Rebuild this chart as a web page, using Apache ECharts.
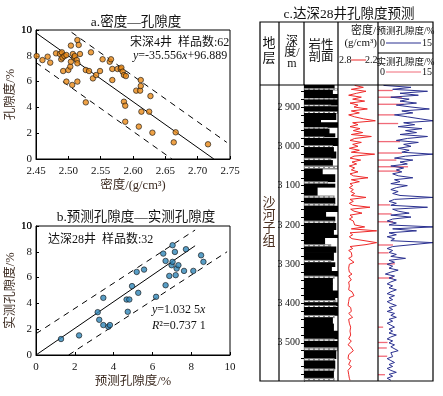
<!DOCTYPE html>
<html>
<head>
<meta charset="utf-8">
<script src="https://cdn.jsdelivr.net/npm/echarts@6/dist/echarts.min.js"></script>
<style>html,body{margin:0;padding:0;background:#fff}#main{width:443px;height:396px}</style>
</head>
<body>
<div id="main"></div>
<script>
var FONT = "'Liberation Serif','Noto Sans CJK SC',serif";
var NAMECOLOR = '#3b2a20';

// a. 宋深4井 密度—孔隙度
var aDensity = [2.451,2.460,2.468,2.472,2.481,2.487,2.490,2.489,2.491,2.494,2.492,2.497,2.500,2.497,2.503,2.504,2.504,2.506,2.507,2.509,2.510,2.513,2.514,2.514,2.514,2.516,2.518,2.527,2.527,2.532,2.535,2.538,2.543,2.549,2.553,2.564,2.566,2.568,2.568,2.576,2.581,2.582,2.584,2.586,2.589,2.586,2.588,2.588,2.605,2.611,2.612,2.612,2.613,2.609,2.627,2.625,2.630,2.666,2.663,2.716];
var aPorosity = [7.98,7.67,7.93,7.47,8.19,8.14,8.27,7.73,7.86,7.98,6.82,8.06,6.90,6.00,7.16,8.79,7.54,5.74,8.14,7.86,7.98,7.67,9.22,7.42,6.00,8.84,8.14,6.90,4.39,6.82,8.27,6.25,6.51,6.82,7.73,7.54,7.73,6.98,6.12,6.98,6.98,7.08,6.77,6.51,6.43,4.44,4.13,2.89,5.30,5.30,6.12,5.66,3.67,2.51,4.88,3.67,2.04,2.07,1.29,1.14];
var aFit = [-35.556, 96.889];          // slope, intercept
var aFitX = [2.45, 2.725];
var aUpperX = [2.505, 2.745], aUpperOff = 2.0;
var aLowerX = [2.45, 2.66], aLowerOff = -2.3;
var aTicksX = [2.45, 2.75, 0.05];
var porTicks = [0, 2, 4, 6, 8, 10];

// b. 达深28井 预测—实测
var bPred = [1.29,2.22,3.18,3.26,3.47,3.47,3.73,3.81,4.67,4.81,4.73,4.95,5.19,5.27,5.57,6.19,6.56,6.68,6.68,6.87,6.99,7.04,7.04,7.16,7.20,7.25,7.34,7.63,7.73,8.11,8.51,8.63];
var bMeas = [1.24,1.52,3.32,2.73,4.43,2.32,2.19,2.32,4.30,4.30,3.35,5.34,6.44,4.82,6.62,4.51,7.86,7.29,5.41,6.13,6.96,7.22,8.51,7.99,6.19,6.70,6.96,6.52,8.20,6.52,7.73,7.22];
var bFit = 1.0325, bFitX = [0, 8.2];
var bBandSlope = 0.98;
var bUpperX = [0, 8.2], bUpperOff = 1.65;
var bLowerX = [1.68, 9.85], bLowerOff = -1.65;

// c. 达深28井 测井曲线 (每5 m 一个采样点)
var logTop = 2845, logStep = 5;
var densityLog = [
  2.55,2.42,2.60,2.38,2.52,2.64,2.45,2.58,2.40,2.62,
  2.50,2.56,2.36,2.60,2.48,2.64,2.55,2.42,2.24,2.58,
  2.50,2.62,2.47,2.57,2.43,2.60,2.30,2.55,2.62,2.45,
  2.58,2.50,2.63,2.48,2.60,2.25,2.56,2.62,2.46,2.59,
  2.52,2.63,2.55,2.60,2.50,2.62,2.57,2.35,2.60,2.48,
  2.62,2.58,2.63,2.57,2.61,2.55,2.60,2.38,2.62,2.57,
  2.63,2.58,2.32,2.61,2.56,2.44,2.62,2.58,2.63,2.57,
  2.60,2.55,2.40,2.60,2.22,2.62,2.58,2.63,2.59,2.62,
  2.22,2.38,2.62,2.58,2.64,2.60,2.63,2.59,2.64,2.61,
  2.56,2.63,2.60,2.64,2.61,2.63,2.59,2.64,2.62,2.60,
  2.64,2.61,2.63,2.60,2.64,2.59,2.62,2.56,2.63,2.61,
  2.64,2.62,2.65,2.61,2.63,2.60,2.64,2.62,2.58,2.64,
  2.61,2.63,2.65,2.61,2.64,2.62,2.65,2.61,2.63,2.64,
  2.60,2.63,2.65,2.61,2.63,2.57,2.60,2.64,2.62,2.65,
  2.61,2.63,2.64,2.60,2.63,2.65,2.62,2.64,2.61,2.63,
  2.62];
var predictedLog = [
  1.5,9.0,4.0,13.5,6.0,11.0,3.5,8.5,6.0,10.5,
  5.0,9.0,14.0,6.5,9.5,4.5,8.0,11.5,15.0,7.0,
  10.0,5.5,12.0,7.5,10.5,6.0,13.5,8.0,5.0,11.0,
  7.0,9.0,5.5,8.5,6.5,15.0,7.5,4.5,9.5,6.0,
  8.0,3.5,7.0,5.0,6.5,4.0,5.5,9.5,4.5,6.0,
  3.5,8.0,5.0,3.5,5.5,4.0,6.0,15.0,4.5,3.0,
  5.0,3.5,13.5,4.0,5.5,8.5,3.5,9.0,4.0,2.5,
  5.0,3.0,15.0,4.0,10.5,3.0,5.0,2.5,4.5,3.5,
  15.0,15.0,4.0,2.5,4.0,3.0,5.0,3.5,7.5,3.0,
  4.5,2.5,4.0,3.0,5.5,3.5,2.0,4.5,3.0,5.0,
  3.5,2.5,4.0,3.0,5.0,3.5,2.5,4.5,3.0,4.0,
  2.5,3.5,5.0,3.0,4.0,2.5,4.5,3.5,5.0,3.0,
  4.0,2.5,3.5,4.5,3.0,4.0,3.0,5.0,3.5,2.5,
  4.0,3.0,4.5,3.5,4.0,5.5,3.5,3.0,4.0,2.5,
  3.5,4.5,3.0,4.0,2.5,3.5,5.0,3.0,4.0,2.5,
  3.5];
var measuredDepth = [2858,2875,2893,2920,2942,2988,3017,3035,3052,3063,3149,3172,3192,3251,3271,3299,3335,3460,3499,3513,3534,3581];
var measuredPor   = [4.0,6.5,7.0,4.6,5.5,6.0,6.5,5.0,8.2,6.0,3.3,3.7,4.1,4.1,2.9,4.6,4.1,1.4,2.6,2.4,2.5,1.9];
// 岩性: [顶深, 底深, 宽度(粒度), 类型 1=泥岩 2=粉砂]
var lithology = [
  [2845,2853,0.90,1],[2853,2857,1.00,2],[2857,2868,0.85,1],[2868,2878,1.00,1],[2878,2882,1.00,2],
  [2882,2895,1.00,1],[2895,2899,0.80,2],[2899,2912,1.00,1],[2912,2916,1.00,2],[2916,2932,0.95,1],
  [2932,2940,0.50,1],[2940,2952,1.00,1],[2952,2956,0.70,2],[2956,2968,0.75,1],[2968,2976,0.92,1],
  [2976,2980,0.60,2],[2980,2998,1.00,1],[2998,3003,0.85,2],[3003,3014,0.88,1],[3014,3030,0.95,1],
  [3030,3036,0.80,2],[3036,3050,0.85,1],[3050,3058,1.00,2],[3058,3072,0.55,1],[3072,3090,0.92,1],
  [3090,3096,0.70,2],[3096,3104,0.92,1],[3104,3126,0.40,1],[3126,3132,0.90,2],[3132,3146,0.92,1],
  [3146,3152,0.90,2],[3152,3166,1.00,1],[3166,3180,0.65,1],[3180,3190,0.92,1],[3190,3196,0.90,2],
  [3196,3212,0.95,1],[3212,3226,0.88,1],[3226,3232,1.00,1],[3232,3250,0.62,1],[3250,3256,0.80,2],
  [3256,3270,0.95,1],[3270,3290,0.88,1],[3290,3296,0.80,2],[3296,3306,0.92,1],[3306,3318,0.82,1],
  [3318,3330,1.00,1],[3330,3336,0.90,2],[3336,3350,0.85,1],[3350,3368,0.85,1],[3368,3385,1.00,1],
  [3385,3392,0.92,1],[3392,3398,0.95,2],[3398,3405,1.00,1],[3405,3410,0.95,2],[3410,3430,1.00,1],
  [3430,3436,0.90,2],[3436,3452,0.85,1],[3452,3470,0.88,1],[3470,3490,1.00,1],[3490,3496,0.90,2],
  [3496,3512,1.00,1],[3512,3520,1.00,2],[3520,3540,0.95,1],[3540,3546,0.90,2],[3546,3566,0.92,1],
  [3566,3572,0.90,2],[3572,3590,0.88,1],[3590,3597,0.90,2]];
var depthLabels = [2900,3000,3100,3200,3300,3400,3500];
var depthMin = 2844, depthMax = 3597;

function pairs(xs, ys){ return xs.map(function(x,i){ return [x, ys[i]]; }); }
function fitLine(xs, slope, icpt){ return xs.map(function(x){ return [x, slope*x + icpt]; }); }
var depthMinor = [];
for (var d = 2860; d < depthMax; d += 20) depthMinor.push(d);

var chart = echarts.init(document.getElementById('main'));

function txt(x, y, s, o){
  o = o || {};
  return {type:'text', x:x, y:y, z:100, style:{text:s, fill:o.color||'#111', fontSize:o.size||12,
    fontFamily:FONT, align:o.align||'center', verticalAlign:'middle', lineHeight:o.lh, rich:o.rich}};
}
function ln(x1,y1,x2,y2,c,w){
  return {type:'line', z:100, shape:{x1:x1,y1:y1,x2:x2,y2:y2}, style:{stroke:c||'#000', lineWidth:w||1.2}};
}
var italic = {i:{fontStyle:'italic', fontFamily:FONT, fontSize:12, fill:'#111'}};

var labelStyle = {fontFamily:FONT, fontSize:11, color:'#111', showMaxLabel:true, showMinLabel:true, hideOverlap:false};
var nameStyle = {fontFamily:FONT, fontSize:12.5, color:NAMECOLOR};
var tickIn = {inside:true, length:3, lineStyle:{color:'#000'}};

function porAxis(grid, name){
  return {gridIndex:grid, type:'value', min:0, max:10, interval:2,
    axisLine:{onZero:false, lineStyle:{color:'#000'}},
    axisTick:tickIn,
    splitLine:{show:false},
    axisLabel:Object.assign({margin:4}, labelStyle),
    name:name, nameLocation:'middle', nameGap:17, nameTextStyle:nameStyle};
}

var option = {
  animation:false,
  grid:[
    {left:36, top:30, width:194, height:129, show:true, borderColor:'#000', borderWidth:1},
    {left:36, top:226, width:194, height:129, show:true, borderColor:'#000', borderWidth:1},
    {left:304, top:85, width:34, height:296},
    {left:338, top:85, width:40, height:296},
    {left:378, top:85, width:55, height:296}
  ],
  xAxis:[
    {gridIndex:0, type:'value', min:aTicksX[0], max:aTicksX[1], interval:aTicksX[2],
     axisLine:{onZero:false, lineStyle:{color:'#000'}}, axisTick:tickIn,
     splitLine:{show:false}, axisLabel:Object.assign({margin:7, formatter:function(v){return v.toFixed(2);}}, labelStyle),
     name:'密度/(g/cm³)', nameLocation:'middle', nameGap:20, nameTextStyle:nameStyle},
    {gridIndex:1, type:'value', min:0, max:10, interval:2,
     axisLine:{onZero:false, lineStyle:{color:'#000'}}, axisTick:tickIn,
     splitLine:{show:false}, axisLabel:Object.assign({margin:7}, labelStyle),
     name:'预测孔隙度/%', nameLocation:'middle', nameGap:20, nameTextStyle:nameStyle},
    {gridIndex:2, type:'value', min:0, max:1, show:false},
    {gridIndex:3, type:'value', min:2.2, max:2.8, inverse:true, show:false},
    {gridIndex:4, type:'value', min:0, max:15, show:false}
  ],
  yAxis:[
    porAxis(0, '孔隙度/%'),
    porAxis(1, '实测孔隙度/%'),
    {gridIndex:2, type:'value', min:depthMin, max:depthMax, inverse:true,
     axisLine:{show:true, onZero:false, lineStyle:{color:'#000', width:1.2}},
     axisTick:{show:true, length:3, customValues:depthMinor, lineStyle:{color:'#000'}},
     splitLine:{show:false},
     axisLabel:{customValues:depthLabels, margin:4, fontFamily:FONT, fontSize:10, color:'#111',
       formatter:function(v){ return String(v).replace(/(\d)(\d{3})$/, '$1 $2'); }}},
    {gridIndex:3, type:'value', min:depthMin, max:depthMax, inverse:true, show:false},
    {gridIndex:4, type:'value', min:depthMin, max:depthMax, inverse:true, show:false}
  ],
  series:[
    {type:'scatter', xAxisIndex:0, yAxisIndex:0, data:pairs(aDensity, aPorosity), symbolSize:5.5,
     itemStyle:{color:'#ea8a16', borderColor:'#111', borderWidth:0.8}, z:5},
    {type:'line', xAxisIndex:0, yAxisIndex:0, data:fitLine(aFitX, aFit[0], aFit[1]), showSymbol:false,
     lineStyle:{color:'#000', width:1}},
    {type:'line', xAxisIndex:0, yAxisIndex:0, data:fitLine(aUpperX, aFit[0], aFit[1]+aUpperOff), showSymbol:false,
     lineStyle:{color:'#000', width:1, type:[6,5]}},
    {type:'line', xAxisIndex:0, yAxisIndex:0, data:fitLine(aLowerX, aFit[0], aFit[1]+aLowerOff), showSymbol:false,
     lineStyle:{color:'#000', width:1, type:[6,5]}},

    {type:'scatter', xAxisIndex:1, yAxisIndex:1, data:pairs(bPred, bMeas), symbolSize:5.5,
     itemStyle:{color:'#2f86b8', borderColor:'#111', borderWidth:0.8}, z:5},
    {type:'line', xAxisIndex:1, yAxisIndex:1, data:fitLine(bFitX, bFit, 0), showSymbol:false,
     lineStyle:{color:'#000', width:1}},
    {type:'line', xAxisIndex:1, yAxisIndex:1, data:fitLine(bUpperX, bBandSlope, bUpperOff), showSymbol:false,
     lineStyle:{color:'#000', width:1, type:[6,5]}},
    {type:'line', xAxisIndex:1, yAxisIndex:1, data:fitLine(bLowerX, bBandSlope, bLowerOff), showSymbol:false,
     lineStyle:{color:'#000', width:1, type:[6,5]}},

    {type:'custom', xAxisIndex:2, yAxisIndex:2, data:lithology, clip:true,
     renderItem:function(params, api){
       var p0 = api.coord([0, api.value(0)]);
       var p1 = api.coord([api.value(2), api.value(1)]);
       var r = {type:'rect', shape:{x:p0[0], y:p0[1]-0.4, width:p1[0]-p0[0], height:p1[1]-p0[1]+0.8},
                style:{fill: api.value(3) === 2 ? '#8e8e8e' : '#000'}};
       if (api.value(3) !== 2) return r;
       var my = (p0[1]+p1[1])/2;
       return {type:'group', children:[r,
         {type:'line', shape:{x1:p0[0]+1, y1:my, x2:p1[0]-1, y2:my},
          style:{stroke:'#fff', lineWidth:1, lineDash:[3,2]}}]};
     }},
    {type:'line', xAxisIndex:3, yAxisIndex:3, showSymbol:false,
     data:densityLog.map(function(v,i){ return [v, logTop + i*logStep]; }),
     lineStyle:{color:'#ee2a2a', width:1}},
    {type:'custom', xAxisIndex:4, yAxisIndex:4, clip:true, data:pairs(measuredDepth, measuredPor),
     renderItem:function(params, api){
       var p0 = api.coord([0, api.value(0)]);
       var p1 = api.coord([api.value(1), api.value(0)]);
       return {type:'line', shape:{x1:p0[0], y1:p0[1], x2:p1[0], y2:p1[1]},
               style:{stroke:'#f06a78', lineWidth:1.3}};
     }},
    {type:'line', xAxisIndex:4, yAxisIndex:4, showSymbol:false,
     data:predictedLog.map(function(v,i){ return [v, logTop + i*logStep]; }),
     lineStyle:{color:'#2b3190', width:1}}
  ],
  graphic:{elements:[
    txt(136, 22, 'a.密度—孔隙度', {size:13.5}),
    txt(130, 43, '宋深4井  样品数:62', {align:'left', size:12}),
    txt(133, 56, '{i|y}=-35.556{i|x}+96.889', {align:'left', size:12, rich:italic}),
    txt(136, 217, 'b.预测孔隙度—实测孔隙度', {size:13.5}),
    txt(48, 240, '达深28井  样品数:32', {align:'left', size:12}),
    txt(152, 310, '{i|y}=1.032 5{i|x}', {align:'left', size:12, rich:italic}),
    txt(152, 326, '{i|R}²=0.737 1', {align:'left', size:12, rich:italic}),

    txt(349, 14, 'c.达深28井孔隙度预测', {size:13.5}),
    {type:'rect', z:100, shape:{x:260, y:22, width:173, height:359}, style:{fill:'transparent', stroke:'#000', lineWidth:1.2}},
    ln(260,85,433,85), ln(279,22,279,381), ln(304,22,304,85), ln(338,22,338,381), ln(378,22,378,381),
    ln(378,53,433,53),
    txt(269, 51, '地\n层', {size:13, lh:15}),
    txt(292, 53, '深\n度/\nm', {size:12, lh:11}),
    txt(321, 52, '岩性\n剖面', {size:12.5, lh:12}),
    txt(376, 31, '密度/', {size:11, align:'right'}),
    txt(377, 43, '(g/cm³)', {size:11, align:'right'}),
    txt(339, 60, '2.8', {size:10, align:'left'}),
    txt(377.5, 60, '2.2', {size:10, align:'right'}),
    ln(351, 60, 366, 60, '#ee2a2a', 1),
    txt(405.5, 31, '预测孔隙度/%', {size:9.5}),
    txt(380, 43, '0', {size:10, align:'left'}),
    txt(432, 43, '15', {size:10, align:'right'}),
    ln(386, 43, 421, 43, '#2b3190', 1),
    txt(405.5, 62, '实测孔隙度/%', {size:9.5}),
    txt(380, 72, '0', {size:10, align:'left'}),
    txt(432, 72, '15', {size:10, align:'right'}),
    ln(386, 72, 421, 72, '#f06a78', 1),
    txt(269, 222, '沙\n河\n子\n组', {size:13, lh:13, color:'#4a2f20'})
  ]}
};
chart.setOption(option);

// the top tick label (10) of both porosity axes goes missing here; put it back at the axis's own pixel
var topVal = porTicks[porTicks.length - 1];
[0, 1].forEach(function(k){
  var y = chart.convertToPixel({yAxisIndex:k}, topVal);
  var x = chart.convertToPixel({xAxisIndex:k}, k === 0 ? aTicksX[0] : 0);
  option.graphic.elements.push(txt(x - 4, y, String(topVal), {size:11, align:'right'}));
});
chart.setOption(option, true);
</script>
</body>
</html>
